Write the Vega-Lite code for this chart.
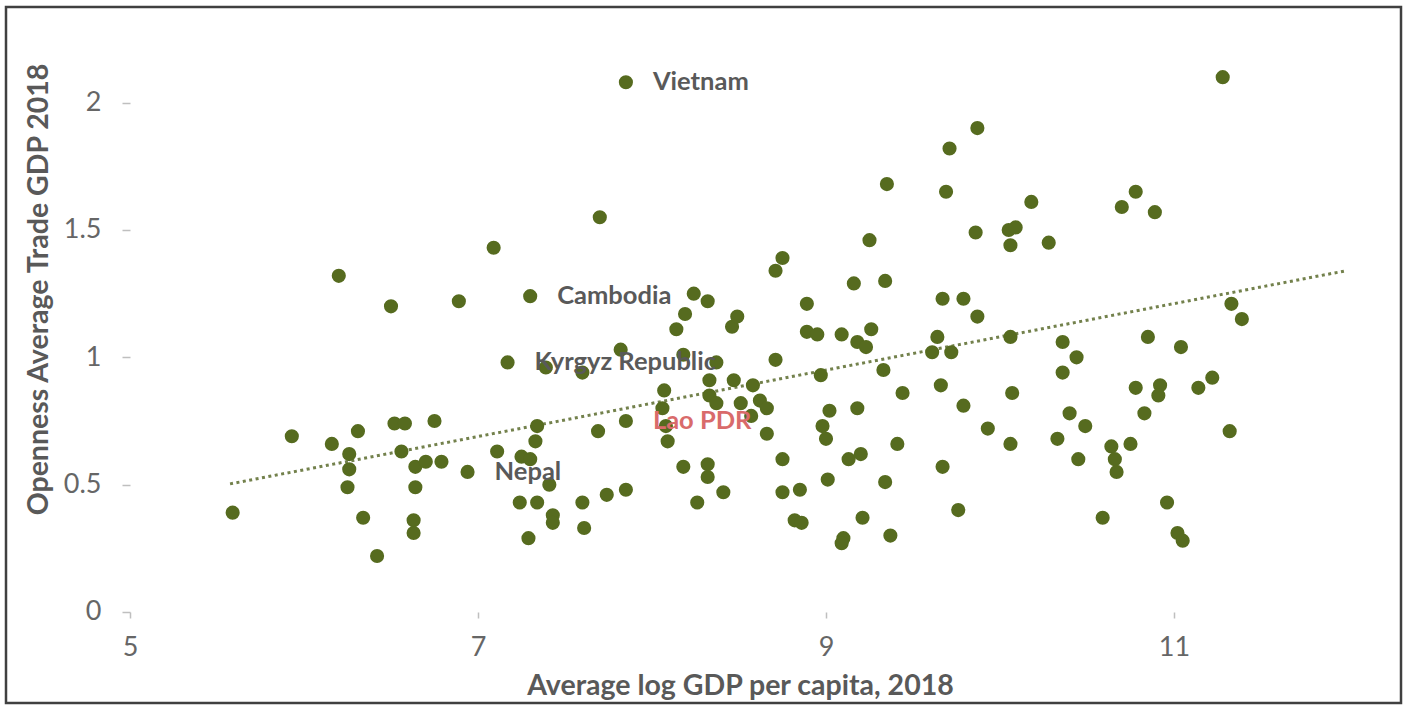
{
  "$schema": "https://vega.github.io/schema/vega-lite/v6.json",
  "width": 1395,
  "height": 696,
  "autosize": {"type": "none"},
  "padding": {"left": 6, "top": 7, "right": 6, "bottom": 2},
  "background": "white",
  "config": {"view": {"stroke": "#404040", "strokeWidth": 2.5}, "font": "Lato"},
  "datasets": {
    "trend": [
      {"gdp": 5.575, "open": 0.503},
      {"gdp": 11.99, "open": 1.34}
    ],
    "points": [
      {"gdp": 5.59, "open": 0.39}, {"gdp": 5.93, "open": 0.69}, {"gdp": 6.16, "open": 0.66}, {"gdp": 6.20, "open": 1.32},
      {"gdp": 6.26, "open": 0.62}, {"gdp": 6.26, "open": 0.56}, {"gdp": 6.25, "open": 0.49}, {"gdp": 6.31, "open": 0.71},
      {"gdp": 6.34, "open": 0.37}, {"gdp": 6.42, "open": 0.22}, {"gdp": 6.50, "open": 1.20}, {"gdp": 6.52, "open": 0.74},
      {"gdp": 6.58, "open": 0.74}, {"gdp": 6.56, "open": 0.63}, {"gdp": 6.64, "open": 0.57}, {"gdp": 6.64, "open": 0.49},
      {"gdp": 6.63, "open": 0.36}, {"gdp": 6.63, "open": 0.31}, {"gdp": 6.70, "open": 0.59}, {"gdp": 6.75, "open": 0.75},
      {"gdp": 6.79, "open": 0.59}, {"gdp": 6.89, "open": 1.22}, {"gdp": 6.94, "open": 0.55, "country": "Nepal"},
      {"gdp": 7.09, "open": 1.43}, {"gdp": 7.11, "open": 0.63}, {"gdp": 7.25, "open": 0.61}, {"gdp": 7.30, "open": 0.60},
      {"gdp": 7.17, "open": 0.98, "country": "Kyrgyz Republic"}, {"gdp": 7.30, "open": 1.24, "country": "Cambodia"},
      {"gdp": 7.34, "open": 0.73}, {"gdp": 7.33, "open": 0.67}, {"gdp": 7.24, "open": 0.43}, {"gdp": 7.34, "open": 0.43},
      {"gdp": 7.29, "open": 0.29}, {"gdp": 7.39, "open": 0.96}, {"gdp": 7.41, "open": 0.50}, {"gdp": 7.43, "open": 0.38},
      {"gdp": 7.43, "open": 0.35}, {"gdp": 7.60, "open": 0.94}, {"gdp": 7.60, "open": 0.43}, {"gdp": 7.61, "open": 0.33},
      {"gdp": 7.69, "open": 0.71}, {"gdp": 7.70, "open": 1.55}, {"gdp": 7.74, "open": 0.46}, {"gdp": 7.82, "open": 1.03},
      {"gdp": 7.85, "open": 0.48}, {"gdp": 7.85, "open": 0.75, "country": "Lao PDR"}, {"gdp": 7.85, "open": 2.08, "country": "Vietnam"},
      {"gdp": 8.07, "open": 0.87}, {"gdp": 8.06, "open": 0.80}, {"gdp": 8.08, "open": 0.73}, {"gdp": 8.09, "open": 0.67},
      {"gdp": 8.14, "open": 1.11}, {"gdp": 8.19, "open": 1.17}, {"gdp": 8.24, "open": 1.25}, {"gdp": 8.32, "open": 1.22},
      {"gdp": 8.46, "open": 1.12}, {"gdp": 8.49, "open": 1.16}, {"gdp": 8.18, "open": 1.01}, {"gdp": 8.37, "open": 0.98},
      {"gdp": 8.33, "open": 0.91}, {"gdp": 8.47, "open": 0.91}, {"gdp": 8.58, "open": 0.89}, {"gdp": 8.33, "open": 0.85},
      {"gdp": 8.37, "open": 0.82}, {"gdp": 8.51, "open": 0.82}, {"gdp": 8.62, "open": 0.83}, {"gdp": 8.66, "open": 0.80},
      {"gdp": 8.57, "open": 0.77}, {"gdp": 8.66, "open": 0.70}, {"gdp": 8.18, "open": 0.57}, {"gdp": 8.32, "open": 0.58},
      {"gdp": 8.32, "open": 0.53}, {"gdp": 8.41, "open": 0.47}, {"gdp": 8.26, "open": 0.43}, {"gdp": 8.71, "open": 0.99},
      {"gdp": 8.71, "open": 1.34}, {"gdp": 8.75, "open": 1.39}, {"gdp": 8.75, "open": 0.60}, {"gdp": 8.75, "open": 0.47},
      {"gdp": 8.85, "open": 0.48}, {"gdp": 8.82, "open": 0.36}, {"gdp": 8.86, "open": 0.35}, {"gdp": 8.89, "open": 1.21},
      {"gdp": 8.89, "open": 1.10}, {"gdp": 8.95, "open": 1.09}, {"gdp": 8.97, "open": 0.93}, {"gdp": 8.98, "open": 0.73},
      {"gdp": 9.00, "open": 0.68}, {"gdp": 9.01, "open": 0.52}, {"gdp": 9.02, "open": 0.79}, {"gdp": 9.09, "open": 1.09},
      {"gdp": 9.16, "open": 1.29}, {"gdp": 9.13, "open": 0.60}, {"gdp": 9.20, "open": 0.62}, {"gdp": 9.18, "open": 1.06},
      {"gdp": 9.23, "open": 1.04}, {"gdp": 9.26, "open": 1.11}, {"gdp": 9.25, "open": 1.46}, {"gdp": 9.18, "open": 0.80},
      {"gdp": 9.21, "open": 0.37}, {"gdp": 9.10, "open": 0.29}, {"gdp": 9.09, "open": 0.27}, {"gdp": 9.34, "open": 1.30},
      {"gdp": 9.35, "open": 1.68}, {"gdp": 9.33, "open": 0.95}, {"gdp": 9.34, "open": 0.51}, {"gdp": 9.37, "open": 0.30},
      {"gdp": 9.41, "open": 0.66}, {"gdp": 9.44, "open": 0.86}, {"gdp": 9.67, "open": 1.23}, {"gdp": 9.79, "open": 1.23},
      {"gdp": 9.69, "open": 1.65}, {"gdp": 9.71, "open": 1.82}, {"gdp": 9.87, "open": 1.90}, {"gdp": 9.86, "open": 1.49},
      {"gdp": 10.05, "open": 1.50}, {"gdp": 10.09, "open": 1.51}, {"gdp": 10.06, "open": 1.44}, {"gdp": 10.18, "open": 1.61},
      {"gdp": 10.28, "open": 1.45}, {"gdp": 9.64, "open": 1.08}, {"gdp": 9.61, "open": 1.02}, {"gdp": 9.72, "open": 1.02},
      {"gdp": 9.66, "open": 0.89}, {"gdp": 9.79, "open": 0.81}, {"gdp": 9.67, "open": 0.57}, {"gdp": 9.76, "open": 0.40},
      {"gdp": 9.87, "open": 1.16}, {"gdp": 9.93, "open": 0.72}, {"gdp": 10.06, "open": 1.08}, {"gdp": 10.07, "open": 0.86},
      {"gdp": 10.06, "open": 0.66}, {"gdp": 10.33, "open": 0.68}, {"gdp": 10.36, "open": 1.06}, {"gdp": 10.44, "open": 1.00},
      {"gdp": 10.36, "open": 0.94}, {"gdp": 10.40, "open": 0.78}, {"gdp": 10.49, "open": 0.73}, {"gdp": 10.45, "open": 0.60},
      {"gdp": 10.70, "open": 1.59}, {"gdp": 10.78, "open": 1.65}, {"gdp": 10.89, "open": 1.57}, {"gdp": 10.59, "open": 0.37},
      {"gdp": 10.64, "open": 0.65}, {"gdp": 10.75, "open": 0.66}, {"gdp": 10.66, "open": 0.60}, {"gdp": 10.67, "open": 0.55},
      {"gdp": 10.78, "open": 0.88}, {"gdp": 10.83, "open": 0.78}, {"gdp": 10.85, "open": 1.08}, {"gdp": 10.92, "open": 0.89},
      {"gdp": 10.91, "open": 0.85}, {"gdp": 10.96, "open": 0.43}, {"gdp": 11.02, "open": 0.31}, {"gdp": 11.05, "open": 0.28},
      {"gdp": 11.04, "open": 1.04}, {"gdp": 11.28, "open": 2.10}, {"gdp": 11.14, "open": 0.88}, {"gdp": 11.22, "open": 0.92},
      {"gdp": 11.32, "open": 0.71}, {"gdp": 11.33, "open": 1.21}, {"gdp": 11.39, "open": 1.15}
    ]
  },
  "encoding": {
    "x": {
      "field": "gdp", "type": "quantitative",
      "scale": {"domain": [4.2874, 12.3046], "nice": false, "zero": false},
      "axis": {
        "values": [5, 7, 9, 11], "offset": -91, "domain": false, "grid": false,
        "tickSize": 6, "tickColor": "#bfbfbf", "tickWidth": 1.5,
        "labelFont": "Lato", "labelFontSize": 27, "labelColor": "#666666", "labelPadding": 16,
        "title": "Average log GDP per capita, 2018", "titleFont": "Lato", "titleFontSize": 28.5,
        "titleFontWeight": "bold", "titleColor": "#595959",
        "titleX": 734, "titleY": 73, "titleBaseline": "middle", "titleAlign": "center"
      }
    },
    "y": {
      "field": "open", "type": "quantitative",
      "scale": {"domain": [-0.3573, 2.3754], "nice": false, "zero": false},
      "axis": {
        "values": [0, 0.5, 1, 1.5, 2], "format": "~g", "offset": -124, "domain": false, "grid": false,
        "tickSize": 8, "tickColor": "#bfbfbf", "tickWidth": 1.5,
        "labelFont": "Lato", "labelFontSize": 27, "labelColor": "#666666", "labelPadding": 21,
        "title": "Openness Average Trade GDP  2018", "titleFont": "Lato", "titleFontSize": 28.5,
        "titleFontWeight": "bold", "titleColor": "#595959",
        "titleX": -92, "titleY": 282, "titleAngle": 270, "titleBaseline": "middle", "titleAlign": "center"
      }
    }
  },
  "layer": [
    {
      "data": {"values": [{}]},
      "mark": {"type": "rule", "color": "#c8c8c8", "strokeWidth": 2},
      "encoding": {
        "x": {"datum": 5, "type": "quantitative"},
        "x2": {"datum": 12},
        "y": {"datum": 0, "type": "quantitative"}
      }
    },
    {
      "data": {"values": [{}]},
      "mark": {"type": "rule", "color": "#d0d0d0", "strokeWidth": 1.5},
      "encoding": {
        "x": {"datum": 5, "type": "quantitative"},
        "y": {"datum": 0, "type": "quantitative"},
        "y2": {"datum": 2.3754}
      }
    },
    {
      "data": {"name": "trend"},
      "mark": {"type": "line", "color": "#73814c", "strokeWidth": 3, "strokeDash": [3, 3.5]}
    },
    {
      "data": {"name": "points"},
      "mark": {"type": "circle", "size": 200, "color": "#566b1f", "opacity": 1}
    },
    {
      "data": {"name": "points"},
      "transform": [{"filter": "datum.country != null"}],
      "mark": {"type": "text", "align": "left", "baseline": "middle", "dx": 27, "fontSize": 25.5, "fontWeight": "bold", "font": "Lato"},
      "encoding": {
        "text": {"field": "country"},
        "color": {"condition": {"test": "datum.country === 'Lao PDR'", "value": "#d96b6b"}, "value": "#595959"}
      }
    }
  ]
}
